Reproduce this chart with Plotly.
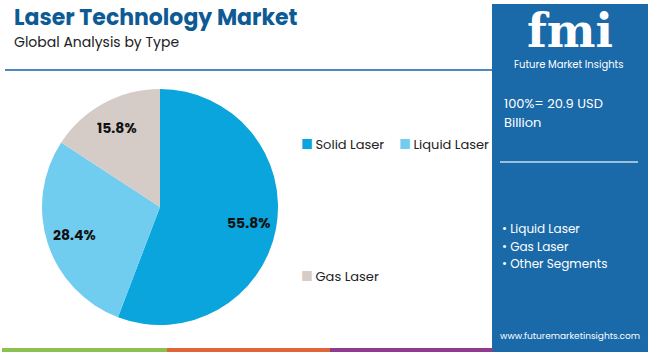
import math
import plotly.graph_objects as go

categories = ["Solid Laser", "Liquid Laser", "Gas Laser"]
values = [55.8, 28.4, 15.8]
colors = ["#0aa5dc", "#71cdf0", "#d5ccc8"]
panel_items = ["Liquid Laser", "Gas Laser", "Other Segments"]

W, H = 650, 352
FONT = "Poppins, Inter, 'Open Sans', sans-serif"

def px(x):
    return x / W

def py(y):
    return 1 - y / H

# pie placement (pixels)
CX, CY, R = 160, 207, 118

fig = go.Figure()
fig.add_trace(go.Pie(
    labels=categories, values=values, sort=False, direction="clockwise", rotation=0,
    marker=dict(colors=colors, line=dict(width=0)),
    textinfo="none",
    domain=dict(x=[px(CX - R), px(CX + R)], y=[py(CY + R), py(CY - R)]),
    showlegend=False, hoverinfo="label+percent",
))

shapes = [
    dict(type="line", xref="paper", yref="paper", x0=px(5), x1=px(492), y0=py(70), y1=py(70),
         line=dict(color="#4c88c2", width=2)),
    dict(type="rect", xref="paper", yref="paper", x0=px(492), x1=px(648), y0=py(352), y1=py(4),
         fillcolor="#1a69a9", line=dict(width=0), layer="below"),
    dict(type="line", xref="paper", yref="paper", x0=px(500), x1=px(638), y0=py(162), y1=py(162),
         line=dict(color="#c9dcee", width=1.5)),
    dict(type="rect", xref="paper", yref="paper", x0=px(2), x1=px(167), y0=0, y1=py(348),
         fillcolor="#8cc152", line=dict(width=0)),
    dict(type="rect", xref="paper", yref="paper", x0=px(167), x1=px(330), y0=0, y1=py(348),
         fillcolor="#e0663a", line=dict(width=0)),
    dict(type="rect", xref="paper", yref="paper", x0=px(330), x1=px(493), y0=0, y1=py(348),
         fillcolor="#8e3b8e", line=dict(width=0)),
]

ann = [
    dict(text="<b>Laser Technology Market</b>", x=px(12), y=py(17), xanchor="left", yanchor="middle",
         font=dict(family=FONT, size=22, color="#0e5a94")),
    dict(text="Global Analysis by Type", x=px(12), y=py(42), xanchor="left", yanchor="middle",
         font=dict(family=FONT, size=14, color="#222222")),
    dict(text="<b>fmi</b>", x=px(570), y=py(31), xanchor="center", yanchor="middle",
         font=dict(family="DejaVu Serif, serif", size=46, color="#ffffff")),
    dict(text="Future Market Insights", x=px(568), y=py(64), xanchor="center", yanchor="middle",
         font=dict(family=FONT, size=10, color="#ffffff")),
    dict(text="100%= 20.9 USD", x=px(502), y=py(103), xanchor="left", yanchor="middle",
         font=dict(family=FONT, size=13, color="#ffffff")),
    dict(text="Billion", x=px(502), y=py(123), xanchor="left", yanchor="middle",
         font=dict(family=FONT, size=13, color="#ffffff")),
    dict(text="www.futuremarketinsights.com", x=px(570), y=py(336), xanchor="center", yanchor="middle",
         font=dict(family=FONT, size=9, color="#ffffff")),
]
for i, s in enumerate(panel_items):
    ann.append(dict(text="• " + s, x=px(500), y=py(229 + 17 * i), xanchor="left", yanchor="middle",
                    font=dict(family=FONT, size=12, color="#ffffff")))

# slice value labels placed along each slice's mid-angle
total = sum(values)
cum = 0
for v in values:
    mid = (cum + v / 2) / total * 2 * math.pi
    cum += v
    lx = CX + 0.76 * R * math.sin(mid)
    ly = CY - 0.76 * R * math.cos(mid)
    ann.append(dict(text=f"<b>{v:.1f}%</b>", x=px(lx), y=py(ly), xanchor="center", yanchor="middle",
                    font=dict(family=FONT, size=14, color="#111111")))

# legend entries
legend_pos = [(299, 144), (397, 144), (299, 276)]
for name, col, (lx, ly) in zip(categories, colors, legend_pos):
    ann.append(dict(text=f"<span style='color:{col}'>■</span><span style='color:#222'>\u2009{name}</span>",
                    x=px(lx), y=py(ly), xanchor="left", yanchor="middle",
                    font=dict(family=FONT, size=13)))

for a in ann:
    a.update(xref="paper", yref="paper", showarrow=False)

fig.update_layout(
    width=W, height=H, margin=dict(l=0, r=0, t=0, b=0),
    paper_bgcolor="#ffffff", plot_bgcolor="#ffffff",
    shapes=shapes, annotations=ann, showlegend=False,
)

fig.write_html("out.html")
